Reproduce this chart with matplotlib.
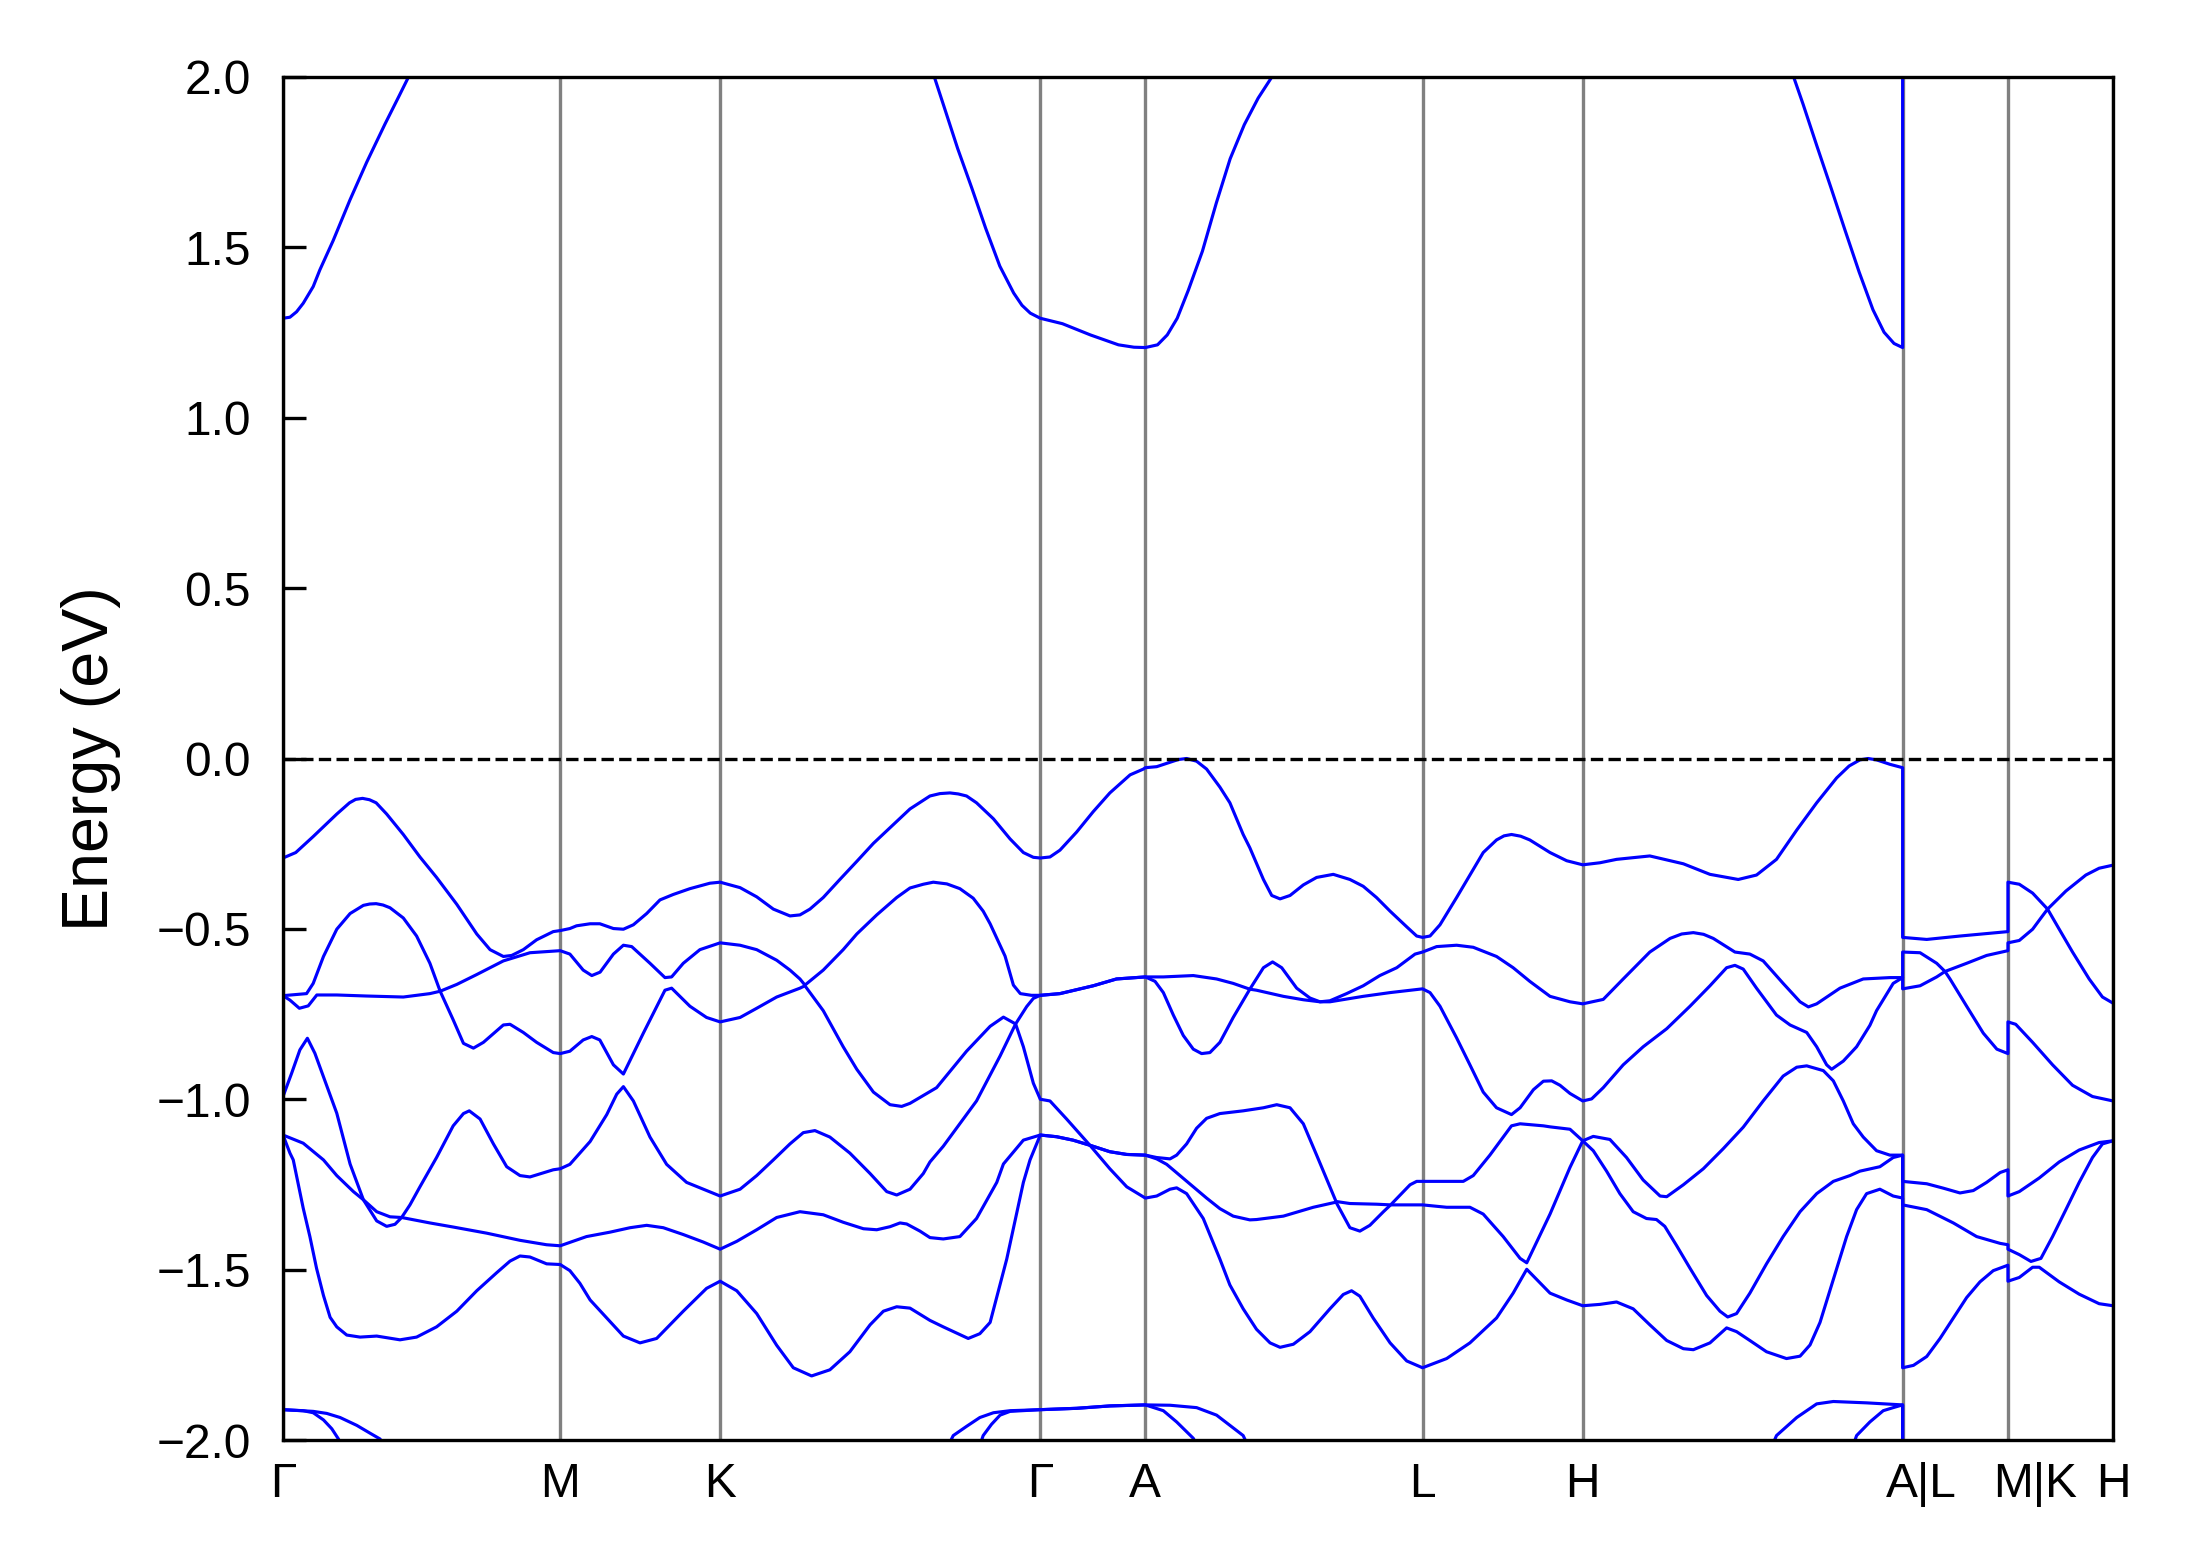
import matplotlib
matplotlib.use("Agg")
import matplotlib.pyplot as plt

plt.rcParams['font.family'] = ['Liberation Sans', 'DejaVu Sans']

# high-symmetry path
kpt_labels = ['Γ', 'M', 'K', 'Γ', 'A', 'L', 'H', 'A|L', 'M|K', 'H']
kpt_pos = [0.000, 1.000, 1.577, 2.732, 3.111, 4.111, 4.689, 5.843, 6.223, 6.602]
label_pos = [0.000, 1.000, 1.577, 2.732, 3.111, 4.111, 4.689, 5.909, 6.322, 6.602]
ytick_vals = [-2.0, -1.5, -1.0, -0.5, 0.0, 0.5, 1.0, 1.5, 2.0]
e_fermi = 0.0

# bands as (k, E) pairs, E in eV
cb = [(0.000,1.292),(0.025,1.295),(0.049,1.311),(0.073,1.336),(0.109,1.385),(0.133,1.434),(0.181,1.520),(0.242,1.640),(0.302,1.750),(0.368,1.862),(0.418,1.943),(0.454,2.002),(0.520,2.150),(1.000,2.800),(1.577,2.900),(2.300,2.120),
      (2.349,2.002),(2.384,1.915),(2.434,1.790),(2.485,1.674),(2.535,1.556),(2.586,1.445),(2.636,1.366),(2.666,1.330),(2.696,1.307),(2.732,1.292),(2.812,1.276),(2.913,1.243),(3.014,1.214),(3.070,1.207),(3.111,1.206),
      (3.155,1.214),(3.190,1.243),(3.226,1.292),(3.266,1.374),(3.317,1.489),(3.367,1.630),(3.417,1.760),(3.468,1.860),(3.518,1.938),(3.569,2.002),(3.620,2.100),(4.111,2.800),(4.689,2.900),(5.400,2.120),
      (5.449,2.002),(5.484,1.920),(5.534,1.797),(5.585,1.674),(5.635,1.551),(5.686,1.428),(5.736,1.317),(5.776,1.251),(5.812,1.218),(5.843,1.206),(5.843,2.800),(6.223,2.900),(6.602,2.900)]

vb1 = [(0.000,-0.292),(0.046,-0.276),(0.109,-0.229),(0.194,-0.163),(0.240,-0.130),(0.262,-0.120),(0.287,-0.117),(0.312,-0.121),(0.336,-0.130),(0.374,-0.163),(0.434,-0.223),(0.494,-0.289),(0.554,-0.349),(0.627,-0.428),(0.699,-0.515),(0.747,-0.561),(0.795,-0.581),(0.825,-0.578),(0.867,-0.561),(0.915,-0.532),(0.975,-0.508),(1.000,-0.505),
       (1.035,-0.499),(1.059,-0.491),(1.108,-0.485),(1.143,-0.485),(1.192,-0.499),(1.228,-0.501),(1.264,-0.488),(1.312,-0.455),(1.360,-0.415),(1.408,-0.399),(1.468,-0.382),(1.540,-0.366),(1.577,-0.363),
       (1.649,-0.379),(1.709,-0.406),(1.769,-0.442),(1.829,-0.462),(1.865,-0.459),(1.901,-0.442),(1.949,-0.408),(2.009,-0.355),(2.070,-0.302),(2.130,-0.249),(2.190,-0.203),(2.262,-0.148),(2.334,-0.110),(2.370,-0.103),(2.406,-0.101),(2.436,-0.104),(2.466,-0.110),(2.502,-0.130),(2.563,-0.177),(2.623,-0.236),(2.671,-0.276),(2.707,-0.290),(2.732,-0.292),
       (2.767,-0.289),(2.803,-0.269),(2.863,-0.216),(2.923,-0.156),(2.983,-0.101),(3.056,-0.048),(3.104,-0.031),(3.111,-0.027),
       (3.152,-0.024),(3.200,-0.011),(3.230,-0.003),(3.260,0.000),(3.296,-0.008),(3.332,-0.031),(3.380,-0.084),(3.416,-0.130),(3.464,-0.223),(3.488,-0.262),(3.537,-0.355),(3.567,-0.402),(3.597,-0.412),(3.633,-0.402),(3.681,-0.371),(3.729,-0.349),(3.789,-0.340),(3.849,-0.355),(3.897,-0.375),(3.945,-0.408),(3.994,-0.448),(4.054,-0.494),(4.090,-0.521),(4.111,-0.525),
       (4.138,-0.521),(4.174,-0.488),(4.234,-0.408),(4.282,-0.342),(4.330,-0.276),(4.378,-0.239),(4.405,-0.227),(4.432,-0.223),(4.465,-0.228),(4.498,-0.239),(4.571,-0.276),(4.631,-0.300),(4.689,-0.312),
       (4.751,-0.306),(4.811,-0.296),(4.931,-0.286),(5.052,-0.309),(5.148,-0.340),(5.250,-0.355),(5.316,-0.342),(5.388,-0.296),(5.461,-0.210),(5.533,-0.130),(5.605,-0.057),(5.650,-0.022),(5.689,-0.004),(5.719,0.000),(5.749,-0.004),(5.797,-0.017),(5.843,-0.027),
       (5.843,-0.525),(5.930,-0.531),(6.050,-0.521),(6.223,-0.508),
       (6.223,-0.363),(6.264,-0.369),(6.312,-0.395),(6.366,-0.442),(6.432,-0.389),(6.504,-0.342),(6.552,-0.322),(6.602,-0.313)]

vb2 = [(0.000,-0.696),(0.085,-0.690),(0.109,-0.660),(0.146,-0.581),(0.194,-0.501),(0.242,-0.455),(0.290,-0.431),(0.313,-0.427),(0.336,-0.426),(0.361,-0.430),(0.386,-0.438),(0.434,-0.468),(0.482,-0.521),(0.530,-0.601),(0.567,-0.683),(0.627,-0.663),(0.699,-0.634),(0.795,-0.594),(0.891,-0.570),(1.000,-0.564),
       (1.035,-0.574),(1.083,-0.621),(1.114,-0.637),(1.144,-0.627),(1.192,-0.574),(1.228,-0.548),(1.258,-0.552),(1.324,-0.601),(1.378,-0.643),(1.402,-0.641),(1.444,-0.601),(1.504,-0.561),(1.577,-0.541),
       (1.649,-0.548),(1.709,-0.561),(1.781,-0.592),(1.829,-0.621),(1.865,-0.647),(1.883,-0.665),(1.949,-0.621),(2.021,-0.561),(2.070,-0.515),(2.142,-0.459),(2.214,-0.408),(2.262,-0.380),(2.310,-0.369),(2.346,-0.363),(2.395,-0.368),(2.442,-0.382),(2.490,-0.410),(2.526,-0.448),(2.551,-0.485),(2.605,-0.580),(2.635,-0.665),(2.660,-0.690),(2.700,-0.695),(2.732,-0.695),
       (2.803,-0.690),(2.923,-0.667),(3.007,-0.647),(3.111,-0.641),
       (3.176,-0.641),(3.284,-0.637),(3.368,-0.647),(3.428,-0.660),(3.488,-0.677),(3.537,-0.614),(3.570,-0.597),(3.603,-0.614),(3.657,-0.674),(3.705,-0.703),(3.741,-0.714),(3.777,-0.711),(3.837,-0.690),(3.897,-0.667),(3.957,-0.637),(4.018,-0.614),(4.084,-0.574),(4.111,-0.568),
       (4.162,-0.552),(4.234,-0.548),(4.294,-0.554),(4.378,-0.581),(4.438,-0.614),(4.498,-0.654),(4.571,-0.698),(4.643,-0.714),(4.689,-0.720),
       (4.763,-0.707),(4.835,-0.647),(4.931,-0.568),(5.004,-0.528),(5.046,-0.515),(5.088,-0.511),(5.125,-0.516),(5.160,-0.528),(5.238,-0.568),(5.292,-0.574),(5.340,-0.594),(5.412,-0.660),(5.473,-0.714),(5.503,-0.729),(5.533,-0.720),(5.617,-0.674),(5.701,-0.647),(5.797,-0.643),(5.843,-0.643),
       (5.843,-0.568),(5.906,-0.570),(5.966,-0.601),(5.996,-0.625),(6.074,-0.601),(6.146,-0.578),(6.223,-0.564),
       (6.223,-0.541),(6.264,-0.534),(6.312,-0.501),(6.342,-0.468),(6.366,-0.442),(6.408,-0.501),(6.456,-0.568),(6.516,-0.647),(6.564,-0.700),(6.602,-0.718)]

vb3 = [(0.000,-0.696),(0.025,-0.709),(0.059,-0.733),(0.091,-0.726),(0.122,-0.694),(0.194,-0.694),(0.300,-0.697),(0.434,-0.700),(0.530,-0.690),(0.567,-0.683),(0.614,-0.767),(0.651,-0.836),(0.687,-0.850),(0.723,-0.833),(0.795,-0.782),(0.819,-0.780),(0.867,-0.804),(0.915,-0.833),(0.975,-0.863),(1.000,-0.866),
       (1.035,-0.859),(1.083,-0.826),(1.114,-0.816),(1.143,-0.826),(1.192,-0.899),(1.228,-0.926),(1.300,-0.806),(1.378,-0.680),(1.402,-0.674),(1.468,-0.727),(1.528,-0.760),(1.577,-0.773),
       (1.649,-0.760),(1.709,-0.733),(1.781,-0.700),(1.865,-0.674),(1.883,-0.667),(1.901,-0.687),(1.949,-0.740),(2.021,-0.846),(2.070,-0.912),(2.130,-0.979),(2.190,-1.016),(2.232,-1.021),(2.262,-1.012),(2.358,-0.966),(2.466,-0.859),(2.551,-0.786),(2.599,-0.759),(2.643,-0.779),(2.683,-0.728),(2.707,-0.704),(2.732,-0.695),
       (2.803,-0.690),(2.923,-0.667),(3.007,-0.647),(3.111,-0.641),
       (3.146,-0.654),(3.176,-0.687),(3.212,-0.753),(3.248,-0.813),(3.284,-0.853),(3.314,-0.866),(3.344,-0.863),(3.380,-0.833),(3.428,-0.760),(3.488,-0.677),(3.512,-0.680),(3.609,-0.698),(3.681,-0.708),(3.741,-0.714),(3.777,-0.714),(3.897,-0.698),(3.994,-0.687),(4.111,-0.676),
       (4.138,-0.687),(4.174,-0.727),(4.234,-0.820),(4.282,-0.899),(4.330,-0.979),(4.378,-1.025),(4.432,-1.045),(4.463,-1.025),(4.511,-0.972),(4.547,-0.947),(4.577,-0.946),(4.607,-0.959),(4.643,-0.983),(4.689,-1.005),
       (4.721,-0.999),(4.763,-0.966),(4.835,-0.899),(4.907,-0.846),(4.992,-0.793),(5.076,-0.727),(5.148,-0.667),(5.208,-0.614),(5.238,-0.607),(5.268,-0.618),(5.316,-0.674),(5.388,-0.753),(5.437,-0.782),(5.497,-0.804),(5.533,-0.846),(5.569,-0.899),(5.587,-0.912),(5.629,-0.888),(5.677,-0.846),(5.725,-0.783),(5.749,-0.740),(5.809,-0.660),(5.843,-0.643),
       (5.843,-0.676),(5.906,-0.667),(5.966,-0.641),(5.996,-0.625),(6.014,-0.647),(6.074,-0.727),(6.134,-0.806),(6.183,-0.853),(6.223,-0.866),
       (6.223,-0.773),(6.251,-0.780),(6.312,-0.833),(6.384,-0.899),(6.456,-0.959),(6.528,-0.992),(6.602,-1.005)]

vb4 = [(0.000,-0.992),(0.031,-0.924),(0.061,-0.855),(0.088,-0.821),(0.115,-0.865),(0.146,-0.934),(0.194,-1.041),(0.242,-1.190),(0.290,-1.295),(0.338,-1.330),(0.386,-1.345),(0.428,-1.347),(0.458,-1.310),(0.494,-1.257),(0.554,-1.171),(0.614,-1.078),(0.651,-1.042),(0.672,-1.034),(0.711,-1.058),(0.759,-1.131),(0.807,-1.198),(0.855,-1.224),(0.891,-1.228),(0.975,-1.207),(1.000,-1.204),
       (1.035,-1.191),(1.108,-1.124),(1.168,-1.045),(1.204,-0.985),(1.228,-0.963),(1.264,-1.005),(1.324,-1.111),(1.384,-1.191),(1.456,-1.244),(1.577,-1.284),
       (1.649,-1.264),(1.709,-1.224),(1.769,-1.178),(1.829,-1.131),(1.877,-1.098),(1.919,-1.092),(1.973,-1.111),(2.045,-1.158),(2.118,-1.218),(2.178,-1.271),(2.214,-1.281),(2.262,-1.264),(2.310,-1.218),(2.334,-1.184),(2.382,-1.138),(2.502,-1.005),(2.587,-0.873),(2.643,-0.779),(2.671,-0.846),(2.707,-0.953),(2.732,-1.000),
       (2.767,-1.005),(2.827,-1.058),(2.911,-1.135),(2.983,-1.154),(3.044,-1.162),(3.111,-1.164),
       (3.152,-1.171),(3.200,-1.175),(3.224,-1.164),(3.260,-1.131),(3.296,-1.085),(3.332,-1.056),(3.380,-1.042),(3.464,-1.034),(3.537,-1.025),(3.585,-1.016),(3.633,-1.025),(3.681,-1.072),(3.729,-1.164),(3.777,-1.257),(3.799,-1.300),(3.849,-1.306),(3.945,-1.308),(3.996,-1.310),(4.066,-1.251),(4.090,-1.241),(4.111,-1.241),
       (4.186,-1.241),(4.258,-1.241),(4.294,-1.224),(4.354,-1.164),(4.432,-1.078),(4.463,-1.072),(4.547,-1.078),(4.571,-1.081),(4.643,-1.088),(4.689,-1.122),
       (4.727,-1.109),(4.787,-1.118),(4.847,-1.171),(4.907,-1.237),(4.968,-1.284),(4.992,-1.286),(5.052,-1.251),(5.124,-1.204),(5.196,-1.145),(5.268,-1.082),(5.340,-1.005),(5.412,-0.932),(5.461,-0.906),(5.497,-0.902),(5.557,-0.916),(5.593,-0.946),(5.629,-1.005),(5.665,-1.072),(5.701,-1.111),(5.749,-1.151),(5.797,-1.164),(5.843,-1.164),
       (5.843,-1.241),(5.930,-1.248),(5.990,-1.261),(6.050,-1.275),(6.098,-1.268),(6.146,-1.244),(6.195,-1.215),(6.223,-1.207),
       (6.223,-1.284),(6.264,-1.271),(6.336,-1.231),(6.408,-1.184),(6.480,-1.149),(6.552,-1.127),(6.602,-1.122)]

vb5 = [(0.000,-1.105),(0.073,-1.129),(0.146,-1.178),(0.194,-1.224),(0.254,-1.271),(0.290,-1.295),(0.338,-1.357),(0.374,-1.373),(0.404,-1.367),(0.428,-1.347),(0.530,-1.363),(0.614,-1.375),(0.735,-1.393),(0.855,-1.414),(0.951,-1.427),(1.000,-1.430),
       (1.095,-1.403),(1.180,-1.390),(1.252,-1.377),(1.312,-1.370),(1.372,-1.377),(1.444,-1.397),(1.516,-1.419),(1.577,-1.440),
       (1.637,-1.417),(1.709,-1.383),(1.781,-1.347),(1.865,-1.330),(1.949,-1.339),(2.021,-1.361),(2.094,-1.380),(2.142,-1.383),(2.190,-1.374),(2.226,-1.363),(2.250,-1.366),(2.298,-1.387),(2.334,-1.406),(2.382,-1.410),(2.442,-1.403),(2.502,-1.350),(2.575,-1.244),(2.599,-1.190),(2.671,-1.120),(2.732,-1.105),
       (2.791,-1.110),(2.850,-1.120),(2.911,-1.135),(2.983,-1.154),(3.044,-1.162),(3.111,-1.164),
       (3.152,-1.175),(3.188,-1.191),(3.236,-1.224),(3.284,-1.257),(3.332,-1.290),(3.380,-1.321),(3.428,-1.343),(3.488,-1.354),(3.512,-1.353),(3.609,-1.343),(3.717,-1.317),(3.799,-1.302),(3.849,-1.377),(3.885,-1.387),(3.921,-1.370),(3.970,-1.330),(3.996,-1.310),(4.066,-1.310),(4.111,-1.310),
       (4.198,-1.317),(4.282,-1.317),(4.330,-1.337),(4.402,-1.403),(4.463,-1.467),(4.487,-1.480),(4.571,-1.337),(4.643,-1.200),(4.689,-1.122),
       (4.727,-1.151),(4.775,-1.211),(4.823,-1.277),(4.871,-1.330),(4.919,-1.350),(4.955,-1.353),(4.985,-1.373),(5.028,-1.430),(5.076,-1.496),(5.136,-1.576),(5.184,-1.622),(5.212,-1.639),(5.244,-1.629),(5.292,-1.569),(5.352,-1.483),(5.412,-1.403),(5.473,-1.330),(5.533,-1.277),(5.593,-1.241),(5.653,-1.224),(5.689,-1.211),(5.761,-1.198),(5.809,-1.171),(5.843,-1.164),
       (5.843,-1.310),(5.930,-1.324),(6.026,-1.363),(6.110,-1.403),(6.195,-1.423),(6.223,-1.427),
       (6.223,-1.440),(6.264,-1.456),(6.306,-1.476),(6.342,-1.467),(6.384,-1.403),(6.432,-1.324),(6.480,-1.244),(6.528,-1.171),(6.564,-1.131),(6.602,-1.122)]

vb6 = [(0.000,-1.105),(0.025,-1.158),(0.037,-1.178),(0.073,-1.320),(0.097,-1.403),(0.121,-1.496),(0.146,-1.576),(0.170,-1.640),(0.194,-1.668),(0.230,-1.692),(0.278,-1.698),(0.338,-1.695),(0.422,-1.706),(0.482,-1.698),(0.554,-1.668),(0.627,-1.622),(0.699,-1.562),(0.771,-1.509),(0.819,-1.475),(0.855,-1.460),(0.891,-1.463),(0.951,-1.483),(1.000,-1.485),
       (1.035,-1.503),(1.071,-1.540),(1.108,-1.589),(1.168,-1.642),(1.228,-1.695),(1.288,-1.715),(1.348,-1.702),(1.444,-1.622),(1.528,-1.555),(1.577,-1.534),
       (1.637,-1.562),(1.709,-1.629),(1.781,-1.722),(1.841,-1.788),(1.907,-1.812),(1.973,-1.794),(2.045,-1.741),(2.118,-1.662),(2.166,-1.622),(2.214,-1.609),(2.262,-1.613),(2.334,-1.649),(2.382,-1.668),(2.472,-1.702),(2.514,-1.688),(2.551,-1.655),(2.611,-1.469),(2.671,-1.244),(2.695,-1.178),(2.732,-1.105),
       (2.791,-1.110),(2.850,-1.120),(2.911,-1.135),(2.983,-1.204),(3.044,-1.257),(3.111,-1.290),
       (3.152,-1.284),(3.200,-1.264),(3.224,-1.260),(3.260,-1.277),(3.320,-1.350),(3.380,-1.469),(3.416,-1.545),(3.464,-1.615),(3.512,-1.675),(3.561,-1.715),(3.597,-1.728),(3.645,-1.719),(3.705,-1.682),(3.777,-1.615),(3.825,-1.573),(3.855,-1.562),(3.885,-1.578),(3.933,-1.642),(3.994,-1.715),(4.054,-1.768),(4.111,-1.788),
       (4.198,-1.761),(4.282,-1.715),(4.378,-1.642),(4.438,-1.569),(4.487,-1.499),(4.547,-1.549),(4.571,-1.569),(4.631,-1.589),(4.689,-1.606),
       (4.751,-1.602),(4.811,-1.595),(4.871,-1.615),(4.931,-1.662),(4.992,-1.708),(5.052,-1.732),(5.088,-1.735),(5.148,-1.715),(5.208,-1.671),(5.244,-1.682),(5.292,-1.708),(5.352,-1.741),(5.424,-1.761),(5.473,-1.754),(5.509,-1.721),(5.545,-1.655),(5.593,-1.529),(5.641,-1.403),(5.677,-1.324),(5.713,-1.277),(5.761,-1.264),(5.809,-1.284),(5.843,-1.290),
       (5.843,-1.788),(5.882,-1.781),(5.930,-1.755),(5.978,-1.702),(6.026,-1.642),(6.074,-1.582),(6.122,-1.536),(6.170,-1.503),(6.223,-1.487),
       (6.223,-1.534),(6.264,-1.523),(6.312,-1.493),(6.336,-1.493),(6.408,-1.536),(6.480,-1.572),(6.552,-1.600),(6.602,-1.606)]

vb7 = [(0.000,-1.911),(0.109,-1.916),(0.158,-1.922),(0.206,-1.934),(0.266,-1.957),(0.314,-1.980),(0.350,-1.997),(0.400,-2.060),(1.000,-2.400),(1.577,-2.400),(2.380,-2.050),(2.418,-1.987),(2.466,-1.960),(2.514,-1.934),(2.563,-1.920),(2.623,-1.914),(2.732,-1.911),
       (2.863,-1.907),(2.983,-1.900),(3.111,-1.897),
       (3.200,-1.898),(3.296,-1.905),(3.368,-1.927),(3.464,-1.987),(3.500,-2.050),(4.111,-2.400),(4.689,-2.400),(5.360,-2.040),(5.388,-1.987),(5.461,-1.934),(5.533,-1.894),(5.593,-1.887),(5.713,-1.891),(5.843,-1.897),
       (5.843,-2.300),(6.223,-2.400),(6.602,-2.400)]

vb8 = [(0.000,-1.911),(0.073,-1.914),(0.109,-1.920),(0.146,-1.941),(0.176,-1.967),(0.200,-1.997),(0.230,-2.050),(1.000,-2.500),(1.577,-2.500),(2.500,-2.050),(2.526,-1.987),(2.556,-1.954),(2.587,-1.927),(2.623,-1.916),(2.732,-1.911),
       (2.863,-1.907),(2.983,-1.900),(3.111,-1.897),
       (3.176,-1.914),(3.224,-1.947),(3.284,-1.995),(3.320,-2.050),(4.111,-2.500),(4.689,-2.500),(5.650,-2.050),(5.677,-1.987),(5.725,-1.947),(5.773,-1.914),(5.809,-1.905),(5.843,-1.897),
       (5.843,-2.400),(6.223,-2.500),(6.602,-2.500)]

bands = [cb, vb1, vb2, vb3, vb4, vb5, vb6, vb7, vb8]

W, H = 2191, 1567
fig = plt.figure(figsize=(W / 300, H / 300), dpi=300)
ax = fig.add_axes([283 / W, 1 - 1440 / H, (2113 - 283) / W, (1440 - 77) / H])

for x in kpt_pos:
    ax.axvline(x, color='grey', lw=0.8, zorder=1)
for band in bands:
    ks = [p[0] for p in band]
    es = [p[1] for p in band]
    ax.plot(ks, es, color='blue', lw=0.75, zorder=2)
ax.axhline(e_fermi, color='black', ls='--', lw=0.8, zorder=3)

ax.set_xlim(kpt_pos[0], kpt_pos[-1])
ax.set_ylim(-2.0, 2.0)
ax.set_xticks(label_pos)
ax.set_xticklabels(kpt_labels)
ax.set_yticks(ytick_vals)
ax.tick_params(axis='y', direction='in', length=5.5, width=0.8, pad=7.7, labelsize=11.5)
ax.tick_params(axis='x', length=0, pad=5.3, labelsize=11.5)
ax.set_ylabel('Energy (eV)', fontsize=15.5, labelpad=8.5)

fig.savefig('out.png', dpi=300)
